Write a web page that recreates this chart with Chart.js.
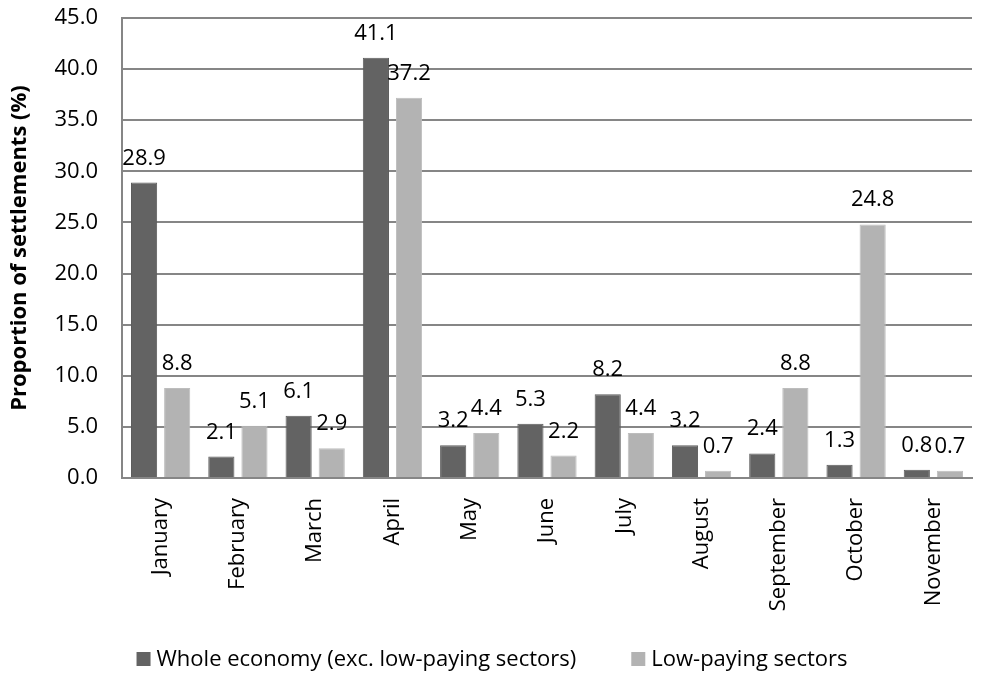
<!DOCTYPE html>
<html>
<head>
<meta charset="utf-8">
<script src="https://cdn.jsdelivr.net/npm/chart.js@4"></script>
<style>
  html, body { margin: 0; padding: 0; background: #fff; }
  #wrap { width: 984px; height: 679px; }
</style>
</head>
<body>
<div id="wrap"><canvas id="settlementsChart"></canvas></div>
<script>
const months = ["January", "February", "March", "April", "May", "June",
                "July", "August", "September", "October", "November"];
const wholeEconomy = [28.9, 2.1, 6.1, 41.1, 3.2, 5.3, 8.2, 3.2, 2.4, 1.3, 0.8];
const lowPaying = [8.8, 5.1, 2.9, 37.2, 4.4, 2.2, 4.4, 0.7, 8.8, 24.8, 0.7];
const yTicks = [0, 5, 10, 15, 20, 25, 30, 35, 40, 45];

const fontFamily = '"Open Sans", "Noto Sans", sans-serif';
const fontSize = 22;
const gridColor = "#868686";

// value labels above each bar
const barLabels = {
  id: "barLabels",
  afterDatasetsDraw(chart) {
    const ctx = chart.ctx;
    ctx.save();
    ctx.font = fontSize + "px " + fontFamily;
    ctx.fillStyle = "#000";
    ctx.textAlign = "center";
    ctx.textBaseline = "alphabetic";
    chart.data.datasets.forEach((ds, i) => {
      chart.getDatasetMeta(i).data.forEach((bar, j) => {
        ctx.fillText(ds.data[j].toFixed(1), bar.x, bar.y - 18);
      });
    });
    ctx.restore();
  }
};

// legend row along the bottom edge, centred on the canvas
const bottomLegend = {
  id: "bottomLegend",
  afterDraw(chart) {
    const ctx = chart.ctx;
    const box = 14, textGap = 6, itemGap = 55;
    const y = chart.height - 20;
    ctx.save();
    ctx.font = fontSize + "px " + fontFamily;
    ctx.textBaseline = "middle";
    ctx.textAlign = "left";
    const items = chart.data.datasets.map(ds => ({
      text: ds.label,
      color: ds.backgroundColor,
      w: box + textGap + ctx.measureText(ds.label).width
    }));
    const total = items.reduce((s, it) => s + it.w, 0) + itemGap * (items.length - 1);
    let x = (chart.width - total) / 2;
    items.forEach(it => {
      ctx.fillStyle = it.color;
      ctx.fillRect(x, y - box / 2, box, box);
      ctx.fillStyle = "#000";
      ctx.fillText(it.text, x + box + textGap, y + 1);
      x += it.w + itemGap;
    });
    ctx.restore();
  }
};

new Chart(document.getElementById("settlementsChart"), {
  type: "bar",
  data: {
    labels: months,
    datasets: [
      {
        label: "Whole economy (exc. low-paying sectors)",
        data: wholeEconomy,
        backgroundColor: "#636363",
        borderColor: "#5c5c5c",
        borderWidth: 1
      },
      {
        label: "Low-paying sectors",
        data: lowPaying,
        backgroundColor: "#b3b3b3",
        borderColor: "#bdbdbd",
        borderWidth: 1
      }
    ]
  },
  options: {
    responsive: true,
    maintainAspectRatio: false,
    animation: false,
    categoryPercentage: 0.857,
    barPercentage: 0.79,
    layout: { padding: { top: 18, right: 12, left: 0, bottom: 40 } },
    plugins: {
      tooltip: { enabled: false },
      legend: { display: false }
    },
    scales: {
      x: {
        grid: { display: false, drawTicks: false },
        border: { color: gridColor, width: 2 },
        ticks: {
          color: "#000",
          font: { family: fontFamily, size: fontSize },
          minRotation: 90,
          maxRotation: 90,
          padding: 20
        },
        afterFit(scale) {
          scale.height = 161;
          scale.paddingTop = 0;
          scale.paddingBottom = 0;
        }
      },
      y: {
        min: 0,
        max: 45,
        afterBuildTicks(scale) { scale.ticks = yTicks.map(v => ({ value: v })); },
        grid: { color: gridColor, lineWidth: 2, drawTicks: false },
        border: { color: gridColor, width: 2 },
        ticks: {
          color: "#000",
          font: { family: fontFamily, size: fontSize },
          padding: 24,
          callback: v => v.toFixed(1)
        },
        title: {
          display: true,
          text: "Proportion of settlements (%)",
          color: "#000",
          font: { family: fontFamily, size: fontSize, weight: "bold" },
          padding: { top: 7, bottom: 0 }
        },
        afterFit(scale) {
          scale.width = 122;
          scale.paddingTop = 0;
          scale.paddingBottom = 0;
        }
      }
    }
  },
  plugins: [barLabels, bottomLegend]
});
</script>
</body>
</html>
